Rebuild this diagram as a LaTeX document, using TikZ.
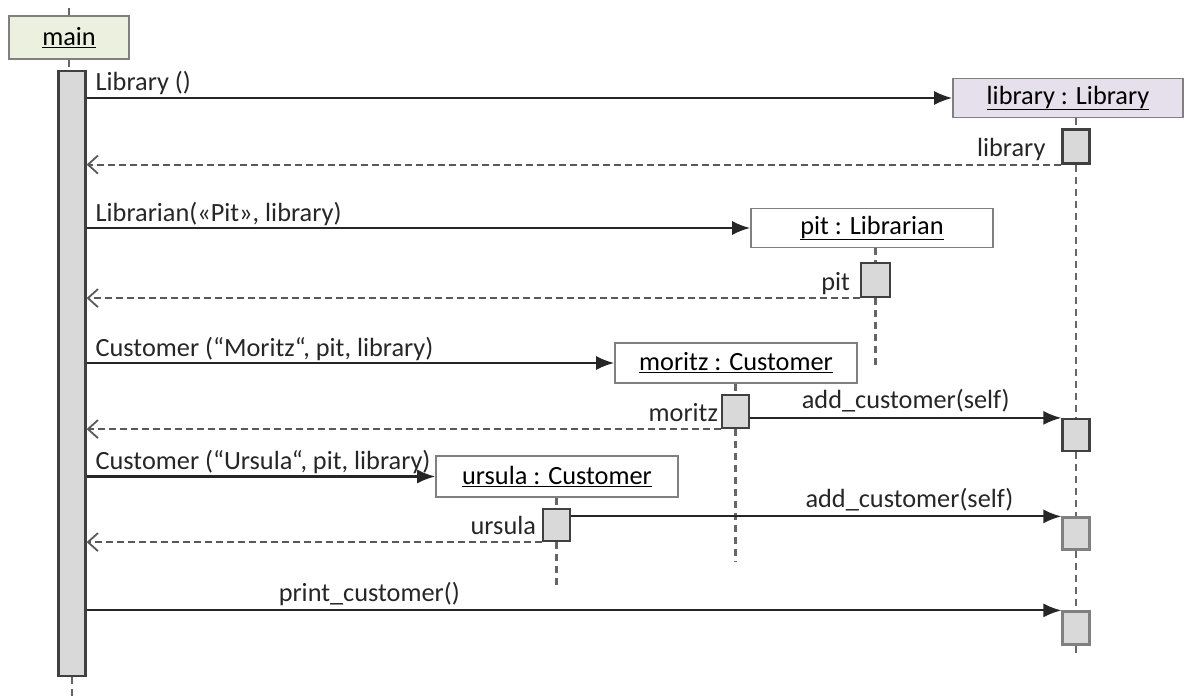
\documentclass[tikz,border=0pt]{standalone}
\usepackage{fontspec}
\setmainfont{Carlito}
\usetikzlibrary{calc, positioning, arrows.meta}
\definecolor{gris}{RGB}{217,217,217}
\definecolor{vertpale}{RGB}{235,241,222}
\definecolor{mauve}{RGB}{229,224,236}
\definecolor{trait}{RGB}{38,38,38}

\begin{document}
\begin{tikzpicture}[x=1pt, y=-1pt, font=\fontsize{26.3}{31}\selectfont]
  \tikzstyle{objet}=[draw=gray, line width=1.6pt, minimum height=39pt, inner sep=0pt]
  \tikzstyle{activ}=[draw=black!75, line width=2.2pt, fill=gris, minimum width=27pt, inner sep=0pt]
  \tikzstyle{activpale}=[activ, draw=gray]
  \tikzstyle{fleche}=[-{Latex[length=18pt,width=14pt]}, line width=2.1pt, color=trait]
  \tikzstyle{retour}=[-{Straight Barb[length=10pt,width=18pt,line width=1.8pt]}, dash pattern=on 7pt off 4pt, line width=1.9pt, color=black!65]
  \tikzstyle{vie}=[dash pattern=on 7pt off 5pt, line width=2.1pt, color=black!60]
  \tikzstyle{msg}=[anchor=base west, xshift=8pt, yshift=7pt, inner sep=0pt, text=trait]
  \tikzstyle{rlbl}=[anchor=base east, yshift=8pt, inner sep=0pt, text=trait]
  \tikzstyle{mlbl}=[anchor=base, yshift=9pt, inner sep=0pt, text=trait]
  \useasboundingbox (0,0) rectangle (1184,698);

  \node[objet, fill=vertpale, minimum width=120pt, minimum height=43pt] (main) at (69,37.5) {\underline{main}};
  \node[activ, minimum height=605pt] (mainact) at (72,373.5) {};
  \node[objet, fill=mauve, minimum width=230pt] (library) at (1068,98) {\underline{library : Library}};
  \node[activ, minimum height=34pt] (libact1) at (1076,146.5) {};
  \node[objet, minimum width=242pt] (pit) at (872,228) {\underline{pit : Librarian}};
  \node[activ, minimum width=29pt, minimum height=34pt] (pitact) at (875.5,280) {};
  \node[objet, minimum width=242pt, minimum height=40pt] (moritz) at (736,363) {\underline{moritz : Customer}};
  \node[activ, minimum height=33pt] (moritzact) at (735.5,411.5) {};
  \node[objet, minimum width=242pt, minimum height=41pt] (ursula) at (557,476.5) {\underline{ursula : Customer}};
  \node[activ, minimum height=32pt] (ursulaact) at (556.5,525) {};
  \node[activ, minimum height=32pt] (libact2) at (1076,435) {};
  \node[activpale, minimum height=32pt] (libact3) at (1076,533.5) {};
  \node[activpale, minimum height=33pt] (libact4) at (1076,628) {};

  \coordinate (mainhaut) at (69,8);
  \coordinate (mainbas) at (72,698);
  \coordinate (libfin) at (1076,657);
  \coordinate (pitfin) at (875.5,368);
  \coordinate (moritzfin) at (735.5,562);
  \coordinate (ursulafin) at (556.5,585);

  \draw[vie] (main.north) -- (mainhaut);
  \draw[vie] (main.south) -- (main.south |- mainact.north);
  \draw[vie] (mainact.south) -- (mainbas);
  \draw[vie] (libact1 |- library.south) -- (libact1.north);
  \draw[vie] (libact1.south) -- (libact2.north);
  \draw[vie] (libact2.south) -- (libact3.north);
  \draw[vie] (libact3.south) -- (libact4.north);
  \draw[vie] (libact4.south) -- (libfin);
  \draw[vie] (pitact |- pit.south) -- (pitact.north);
  \draw[vie] (pitact.south) -- (pitfin);
  \draw[vie] (moritzact |- moritz.south) -- (moritzact.north);
  \draw[vie] (moritzact.south) -- (moritzfin);
  \draw[vie] (ursulaact |- ursula.south) -- (ursulaact.north);
  \draw[vie] (ursulaact.south) -- (ursulafin);

  \draw[fleche] (mainact.east |- library.west) -- node[msg, pos=0] {Library ()} (library.west);
  \draw[retour] (libact1.south west) -- node[rlbl, pos=0, xshift=-15pt] {library} (mainact.east |- libact1.south west);
  \draw[fleche] (mainact.east |- pit.west) -- node[msg, pos=0] {Librarian(«Pit», library)} (pit.west);
  \draw[retour] (pitact.south west) -- node[rlbl, pos=0, xshift=-9pt] {pit} (mainact.east |- pitact.south west);
  \draw[fleche] (mainact.east |- moritz.west) -- node[msg, pos=0] {Customer (“Moritz“, pit, library)} (moritz.west);
  \draw[retour] (moritzact.south west) -- node[rlbl, pos=0, xshift=-2pt] {moritz} (mainact.east |- moritzact.south west);
  \draw[fleche] (moritzact.east |- libact2.north west) -- node[mlbl] {add\_customer(self)} (libact2.north west);
  \draw[fleche] (mainact.east |- ursula.west) -- node[msg, pos=0] {Customer (“Ursula“, pit, library)} (ursula.west);
  \draw[retour] (ursulaact.south west) -- node[rlbl, pos=0, xshift=-5pt] {ursula} (mainact.east |- ursulaact.south west);
  \draw[fleche] (ursulaact.east |- libact3.north west) -- node[mlbl, pos=0.69] {add\_customer(self)} (libact3.north west);
  \draw[fleche] (mainact.east |- libact4.north west) -- node[mlbl, pos=0.29] {print\_customer()} (libact4.north west);
\end{tikzpicture}
\end{document}
